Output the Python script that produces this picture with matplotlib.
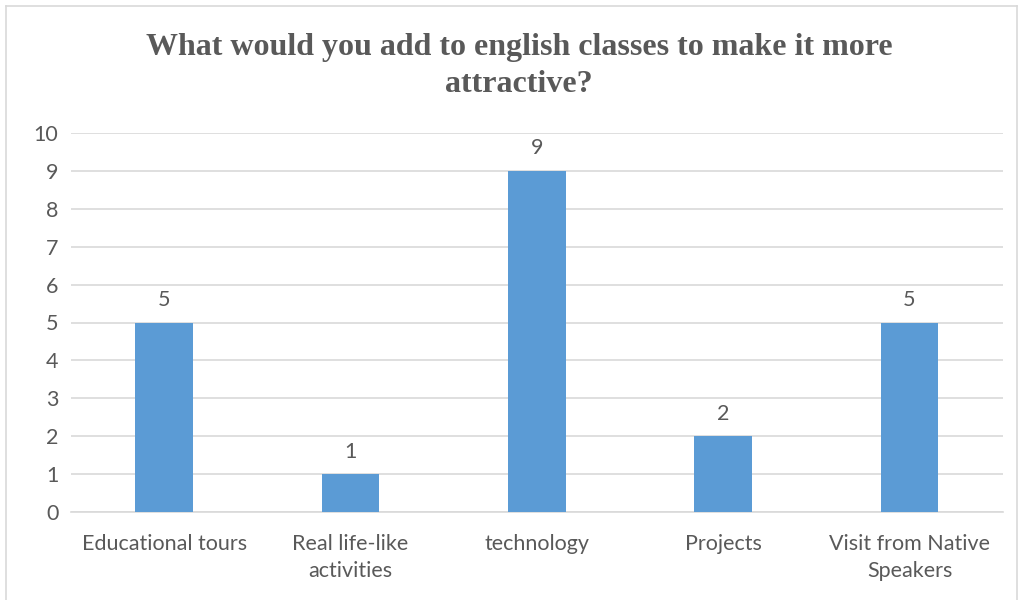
import matplotlib.pyplot as plt
from matplotlib.lines import Line2D

# Respuestas de la encuesta
categorias = ['Educational tours', 'Real life-like\nactivities', 'technology',
              'Projects', 'Visit from Native\nSpeakers']
valores = [5, 1, 9, 2, 5]

gris = '#595959'
plt.rcParams['font.family'] = ['Lato', 'DejaVu Sans']

fig = plt.figure(figsize=(10.2, 6), dpi=100)
ax = fig.add_axes([0.0696, 0.1467, 0.9134, 0.6316])

x = range(len(categorias))
barras = ax.bar(x, valores, width=0.31, color='#5B9BD5', zorder=3)
ax.bar_label(barras, labels=[str(v) for v in valores], padding=9,
             fontsize=15.5, color=gris)

ax.set_xlim(-0.5, len(categorias) - 0.5)
ax.set_ylim(0, 10)
ax.set_yticks(range(0, 11))
ax.set_xticks(list(x))
ax.set_xticklabels(categorias, fontsize=15.5, color=gris, linespacing=1.45)
ax.tick_params(axis='y', labelsize=15.5, labelcolor=gris, length=0, pad=9)
ax.tick_params(axis='x', length=0, pad=16)
ax.grid(axis='y', color='#D9D9D9', linewidth=1.2, zorder=0)
for lado in ['top', 'right', 'left']:
    ax.spines[lado].set_visible(False)
ax.spines['bottom'].set_color('#D9D9D9')
ax.spines['bottom'].set_linewidth(1.2)

fig.text(0.509, 0.89, 'What would you add to english classes to make it more\nattractive?',
         ha='center', va='center', fontsize=23, fontweight='bold',
         family='Liberation Serif', color=gris, linespacing=1.4)

# Marco del gráfico
borde = '#D9D9D9'
fig.add_artist(Line2D([6 / 1020, 6 / 1020], [0, 1 - 6 / 600], color=borde, lw=1.2))
fig.add_artist(Line2D([6 / 1020, 1017 / 1020], [1 - 6 / 600, 1 - 6 / 600], color=borde, lw=1.2))
fig.add_artist(Line2D([1017 / 1020, 1017 / 1020], [0, 1 - 6 / 600], color=borde, lw=1.2))

fig.savefig('out.png', dpi=100)
